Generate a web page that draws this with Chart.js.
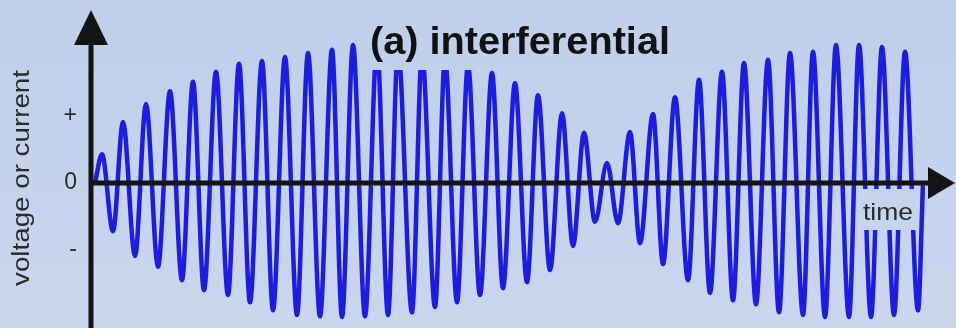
<!DOCTYPE html>
<html>
<head>
<meta charset="utf-8">
<title>interferential</title>
<script src="https://cdn.jsdelivr.net/npm/chart.js@4.4.1/dist/chart.umd.min.js"></script>
<style>
  html, body { margin: 0; padding: 0; }
  body { width: 956px; height: 328px; overflow: hidden; background: linear-gradient(#bfcfe9, #c9d6ee); }
  canvas { display: block; }
</style>
</head>
<body>
<canvas id="wave" width="956" height="328"></canvas>
<script>
// peaks, troughs and the two end points of the beat signal
const time = [4, 11, 22, 32, 44, 55, 67, 79, 91, 102,
  113, 125, 137, 148, 159, 171, 182, 194, 206, 217,
  229, 241, 251, 262, 274, 286, 297, 307, 321, 331,
  344, 354, 366, 377, 389, 401, 412, 424, 436, 447,
  459, 471, 482, 493, 504, 516, 527, 539, 549, 562,
  572, 584, 597, 608, 619, 631, 642, 653, 665, 677,
  688, 699, 712, 722, 734, 745, 758, 768, 780, 791,
  803, 814, 827, 832];
const signal = [0, 0.43, -0.72, 0.91, -1.09, 1.18, -1.25, 1.37, -1.45, 1.51,
  -1.60, 1.66, -1.67, 1.78, -1.78, 1.82, -1.90, 1.88, -1.97, 1.94,
  -1.99, 1.99, -2.00, 2.06, -1.99, 2.04, -1.97, 2.01, -1.93, 1.94,
  -1.85, 1.87, -1.78, 1.76, -1.67, 1.64, -1.57, 1.49, -1.48, 1.31,
  -1.30, 1.04, -0.94, 0.75, -0.58, 0.30, -0.60, 0.76, -0.90, 1.03,
  -1.21, 1.28, -1.45, 1.54, -1.64, 1.66, -1.75, 1.79, -1.81, 1.84,
  -1.93, 1.94, -1.97, 1.96, -2.00, 2.06, -2.00, 2.06, -2.00, 2.03,
  -1.97, 1.96, -1.90, 0];
const tickValues = [-1, 0, 1];
const tickLabels = ['-', '0', '+'];

const titleText = '(a) interferential';
const xTitle = 'time';
const yTitle = 'voltage or current';

function bgFill(ctx) {
    const g = ctx.createLinearGradient(0, 0, 0, 328);
    g.addColorStop(0, '#bfcfe9');
    g.addColorStop(1, '#c9d6ee');
    return g;
}

// text squeezed or stretched to a given width
function fitText(ctx, text, x, y, width, angle) {
    const w = ctx.measureText(text).width;
    ctx.save();
    ctx.translate(x, y);
    ctx.rotate(angle || 0);
    ctx.scale(width / w, 1);
    ctx.fillText(text, 0, 0);
    ctx.restore();
}

// axes with arrow heads, and the labels that sit over the trace
const decor = {
    id: 'decor',
    afterDatasetsDraw(chart) {
        const ctx = chart.ctx;
        const area = chart.chartArea;
        const x0 = area.left;
        const y0 = chart.scales.y.getPixelForValue(0);

        ctx.save();
        ctx.fillStyle = bgFill(ctx);
        ctx.fillRect(362, 0, 320, 70);
        ctx.fillRect(860, 189, 59, 41);

        ctx.strokeStyle = '#141414';
        ctx.fillStyle = '#141414';
        ctx.lineWidth = 5;
        ctx.beginPath();
        ctx.moveTo(x0, 40);
        ctx.lineTo(x0, chart.height);
        ctx.moveTo(x0, y0);
        ctx.lineTo(932, y0);
        ctx.stroke();

        ctx.beginPath();
        ctx.moveTo(x0, 10);
        ctx.lineTo(x0 - 17, 45);
        ctx.lineTo(x0 + 17, 45);
        ctx.closePath();
        ctx.fill();

        ctx.beginPath();
        ctx.moveTo(955, y0);
        ctx.lineTo(928, y0 - 16);
        ctx.lineTo(928, y0 + 16);
        ctx.closePath();
        ctx.fill();

        ctx.textAlign = 'center';
        ctx.textBaseline = 'middle';
        ctx.fillStyle = '#111';
        ctx.font = 'bold 38px "Liberation Sans", Arial, sans-serif';
        fitText(ctx, titleText, 520, 44, 300);

        ctx.fillStyle = '#2a2a2a';
        ctx.font = '24px "Liberation Sans", Arial, sans-serif';
        fitText(ctx, xTitle, 888, 213, 50);

        ctx.font = '23px "Liberation Sans", Arial, sans-serif';
        fitText(ctx, yTitle, 23, 178, 216, -Math.PI / 2);
        ctx.restore();
    }
};

const ctx = document.getElementById('wave').getContext('2d');
new Chart(ctx, {
    type: 'line',
    data: {
        datasets: [{
            label: 'current',
            data: time.map((t, i) => ({ x: t, y: signal[i] })),
            borderColor: '#1c1ce4',
            borderWidth: 4.5,
            pointRadius: 0,
            fill: false,
            cubicInterpolationMode: 'monotone'
        }]
    },
    options: {
        responsive: false,
        animation: false,
        layout: { padding: { left: 0, right: 25, top: 0, bottom: 0 } },
        plugins: {
            legend: { display: false },
            tooltip: { enabled: false }
        },
        scales: {
            x: {
                type: 'linear',
                min: 0,
                max: 840,
                display: false
            },
            y: {
                min: -2.164,
                max: 2.731,
                grid: { display: false, drawTicks: false },
                border: { display: false },
                afterBuildTicks: (scale) => {
                    scale.ticks = tickValues.map(v => ({ value: v }));
                },
                afterFit: (scale) => {
                    scale.width = 91;
                    scale.paddingTop = 0;
                    scale.paddingBottom = 0;
                },
                ticks: {
                    padding: 14,
                    color: '#2a2a2a',
                    font: { size: 23, family: '"Liberation Sans", Arial, sans-serif' },
                    callback: (value) => tickLabels[tickValues.indexOf(value)]
                }
            }
        }
    },
    plugins: [decor]
});
</script>
</body>
</html>
